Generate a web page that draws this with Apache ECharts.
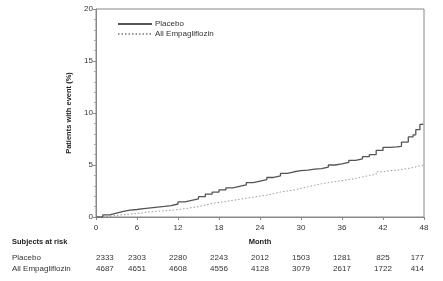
<!DOCTYPE html>
<html>
<head>
<meta charset="utf-8">
<script src="https://cdn.jsdelivr.net/npm/echarts@6/dist/echarts.min.js"></script>
<style>html,body{margin:0;padding:0;background:#fff}#c{width:443px;height:281px}</style>
</head>
<body>
<div id="c"></div>
<script>
var months = [0,1,2,3,4,5,6,7,8,9,10,11,12,13,14,15,16,17,18,19,20,21,22,23,24,25,26,27,28,29,30,31,32,33,34,35,36,37,38,39,40,41,42,43,44,44.7,45.7,46.4,46.8,47.4,47.8];
var placebo = [0,0.2,0.38,0.55,0.66,0.72,0.8,0.88,0.95,1.02,1.1,1.25,1.45,1.6,1.75,1.95,2.2,2.4,2.6,2.8,2.95,3.1,3.3,3.45,3.6,3.8,3.95,4.2,4.35,4.45,4.5,4.6,4.65,4.8,5.0,5.1,5.25,5.45,5.6,5.8,6.0,6.4,6.7,6.75,6.8,7.2,7.7,7.9,8.4,8.9,9.0];
var empaMonths = [0,1,2,3,4,5,6,7,8,9,10,11,12,13,14,15,16,17,18,19,20,21,22,23,24,25,26,27,28,29,30,31,32,33,34,35,36,37,38,39,40,41,42,43,44,45,46,47,48];
var empa = [0,0.08,0.15,0.22,0.28,0.34,0.42,0.5,0.55,0.6,0.65,0.72,0.8,0.9,1.0,1.15,1.3,1.4,1.5,1.6,1.7,1.8,1.9,2.0,2.1,2.25,2.4,2.5,2.6,2.75,2.9,3.05,3.2,3.3,3.4,3.5,3.6,3.7,3.85,4.0,4.1,4.35,4.45,4.5,4.6,4.7,4.85,5.0,5.0];
var riskMonths = [0,6,12,18,24,30,36,42,48];
var riskPlacebo = [2333,2303,2280,2243,2012,1503,1281,825,177];
var riskEmpa = [4687,4651,4608,4556,4128,3079,2617,1722,414];
var seriesNames = ['Placebo','All Empagliflozin'];

var font = 'Liberation Sans, Arial, sans-serif';
var txt = '#333';
function pairs(xs, ys){ return xs.map(function(x,i){ return [x, ys[i]]; }); }
function riskAxis(arr, offset){
  return {
    type:'value', gridIndex:0, position:'bottom', offset:offset, min:0, max:48, interval:6,
    axisLine:{show:false}, axisTick:{show:false}, splitLine:{show:false},
    axisLabel:{margin:0, fontSize:8, fontFamily:font, color:txt, alignMinLabel:'left', alignMaxLabel:'right',
      formatter:function(v){ var i = riskMonths.indexOf(v); return i>=0 ? String(arr[i]) : ''; }}
  };
}
var chart = echarts.init(document.getElementById('c'), null, {renderer:'canvas'});
chart.setOption({
  animation:false,
  backgroundColor:'#fff',
  grid:{left:96, right:19, top:9, bottom:64, show:true, borderColor:'#888', borderWidth:1, backgroundColor:'transparent'},
  legend:{
    orient:'vertical', left:112, top:15, itemWidth:34, itemHeight:8, itemGap:2,
    itemStyle:{opacity:0},
    textStyle:{fontSize:8, fontFamily:font, color:txt, padding:[0,0,0,-2]},
    data:seriesNames
  },
  xAxis:[{
    type:'value', min:0, max:48, interval:6,
    name:'Month', nameLocation:'middle', nameGap:21,
    nameTextStyle:{fontSize:7.5, fontWeight:'bold', fontFamily:font, color:'#222'},
    axisLine:{lineStyle:{color:'#888'}}, axisTick:{length:3, lineStyle:{color:'#888'}},
    splitLine:{show:false},
    axisLabel:{margin:7, fontSize:8, fontFamily:font, color:txt}
  }, riskAxis(riskPlacebo, 37), riskAxis(riskEmpa, 48)],
  yAxis:{
    type:'value', min:0, max:20, interval:5,
    name:'Patients with event (%)', nameLocation:'middle', nameGap:21,
    nameTextStyle:{fontSize:7.5, fontWeight:'bold', fontFamily:font, color:'#222'},
    axisLine:{show:true, lineStyle:{color:'#888'}}, axisTick:{show:true, length:3, lineStyle:{color:'#888'}},
    minorTick:{show:true, splitNumber:5, length:2, lineStyle:{color:'#aaa'}},
    splitLine:{show:false},
    axisLabel:{margin:3, fontSize:8, fontFamily:font, color:txt}
  },
  graphic:[
    {type:'text', left:12, top:238, style:{text:'Subjects at risk', font:'bold 7.5px '+font, fill:'#222'}},
    {type:'text', left:12, top:254, style:{text:seriesNames[0], font:'8px '+font, fill:txt}},
    {type:'text', left:12, top:265, style:{text:seriesNames[1], font:'8px '+font, fill:txt}}
  ],
  series:[
    {name:seriesNames[0], type:'line', step:'end', symbol:'none', data:pairs(months, placebo),
     lineStyle:{color:'#555', width:1.3, type:'solid'}, itemStyle:{color:'#555'}},
    {name:seriesNames[1], type:'line', step:'end', symbol:'none', data:pairs(empaMonths, empa),
     lineStyle:{color:'#999', width:1, type:[1.5,2]}, itemStyle:{color:'#999'}}
  ]
});
</script>
</body>
</html>
